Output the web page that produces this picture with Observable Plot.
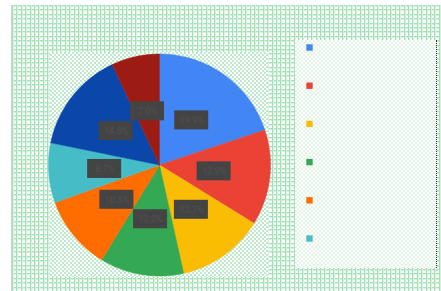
<!DOCTYPE html>
<html><head><meta charset="utf-8">
<script src="https://cdn.jsdelivr.net/npm/d3@7"></script>
<script src="https://cdn.jsdelivr.net/npm/@observablehq/plot@0.6"></script>
<style>
html,body{margin:0;padding:0;background:#fff;}
#wrap{position:relative;width:441px;height:291px;overflow:hidden;background:#fff;}
.grid{position:absolute;left:11px;top:5px;width:430px;height:286px;border-left:1px solid #cfcfcf;
 background-image:repeating-linear-gradient(90deg,#a6e0b6 0 1px,#d6f2de 1px 2px,transparent 2px 4.4px),repeating-linear-gradient(180deg,#a6e0b6 0 1px,#d6f2de 1px 2px,transparent 2px 4.4px);}
.plotarea{position:absolute;left:50px;top:52px;width:218px;height:225px;
 background:repeating-conic-gradient(#bde8c9 0 25%,#ffffff 0 50%) 0 0/4px 4px;}
.legarea{position:absolute;left:295px;top:40px;width:141px;height:228px;border-right:1px dotted #333;
 background-color:#fdfffd;background-image:repeating-conic-gradient(#e0f5e6 0 25%,#ffffff 0 50%);background-size:4px 4px;}
#chart{position:absolute;left:0;top:0;}
</style></head>
<body><div id="wrap"><div class="grid"></div><div class="plotarea"></div><div class="legarea"></div><div id="chart"></div></div>
<script>
const categories = ["A", "B", "C", "D", "E", "F", "G", "H"];
const values = [19.9, 13.9, 12.7, 12.2, 10.8, 8.7, 14.8, 7.0];
const colors = ["#4285f4", "#ea4335", "#fbbc04", "#34a853", "#ff6d01", "#46bdc6", "#0b47aa", "#9c1b12"];
const legendCount = 6;

const W = 441, H = 291, cx = 159, cy = 164.5, R = 111, rLab = 55;
const total = d3.sum(values);
const arcs = d3.pie().sort(null).value(d => d)(values);

const slicePts = [];
arcs.forEach((a, i) => {
  slicePts.push({k: categories[i], x: cx, y: cy});
  const n = Math.max(8, Math.ceil((a.endAngle - a.startAngle) * 40));
  for (let j = 0; j <= n; j++) {
    const t = a.startAngle + (a.endAngle - a.startAngle) * j / n;
    slicePts.push({k: categories[i], x: cx + R * Math.sin(t), y: cy - R * Math.cos(t)});
  }
  slicePts.push({k: categories[i], x: cx, y: cy});
});

const labels = arcs.map((a, i) => {
  const m = (a.startAngle + a.endAngle) / 2;
  return {k: categories[i], x: cx + rLab * Math.sin(m), y: cy - rLab * Math.cos(m),
          t: (values[i] / total * 100).toFixed(1) + "%"};
});

const legend = categories.slice(0, legendCount).map((k, i) => ({k, x: 309, y: 47 + i * 38.2}));

const plot = Plot.plot({
  width: W, height: H, margin: 0,
  style: {background: "transparent", overflow: "visible"},
  x: {domain: [0, W], range: [0, W], axis: null},
  y: {domain: [0, H], range: [0, H], axis: null},
  color: {domain: categories, range: colors},
  marks: [
    Plot.line(slicePts, {x: "x", y: "y", z: "k", fill: "k", stroke: "k", strokeWidth: 0.5, curve: "linear"}),
    Plot.rect(labels, {x1: d => d.x - 17, x2: d => d.x + 17, y1: d => d.y - 9.5, y2: d => d.y + 9.5, fill: "#444444"}),
    Plot.text(labels, {x: "x", y: "y", text: "t", fill: "#505050", fontSize: 9, fontFamily: "Roboto"}),
    Plot.dot(legend, {x: "x", y: "y", fill: "k", symbol: "square", r: 3.6})
  ]
});
document.getElementById("chart").appendChild(plot);
</script></body></html>
